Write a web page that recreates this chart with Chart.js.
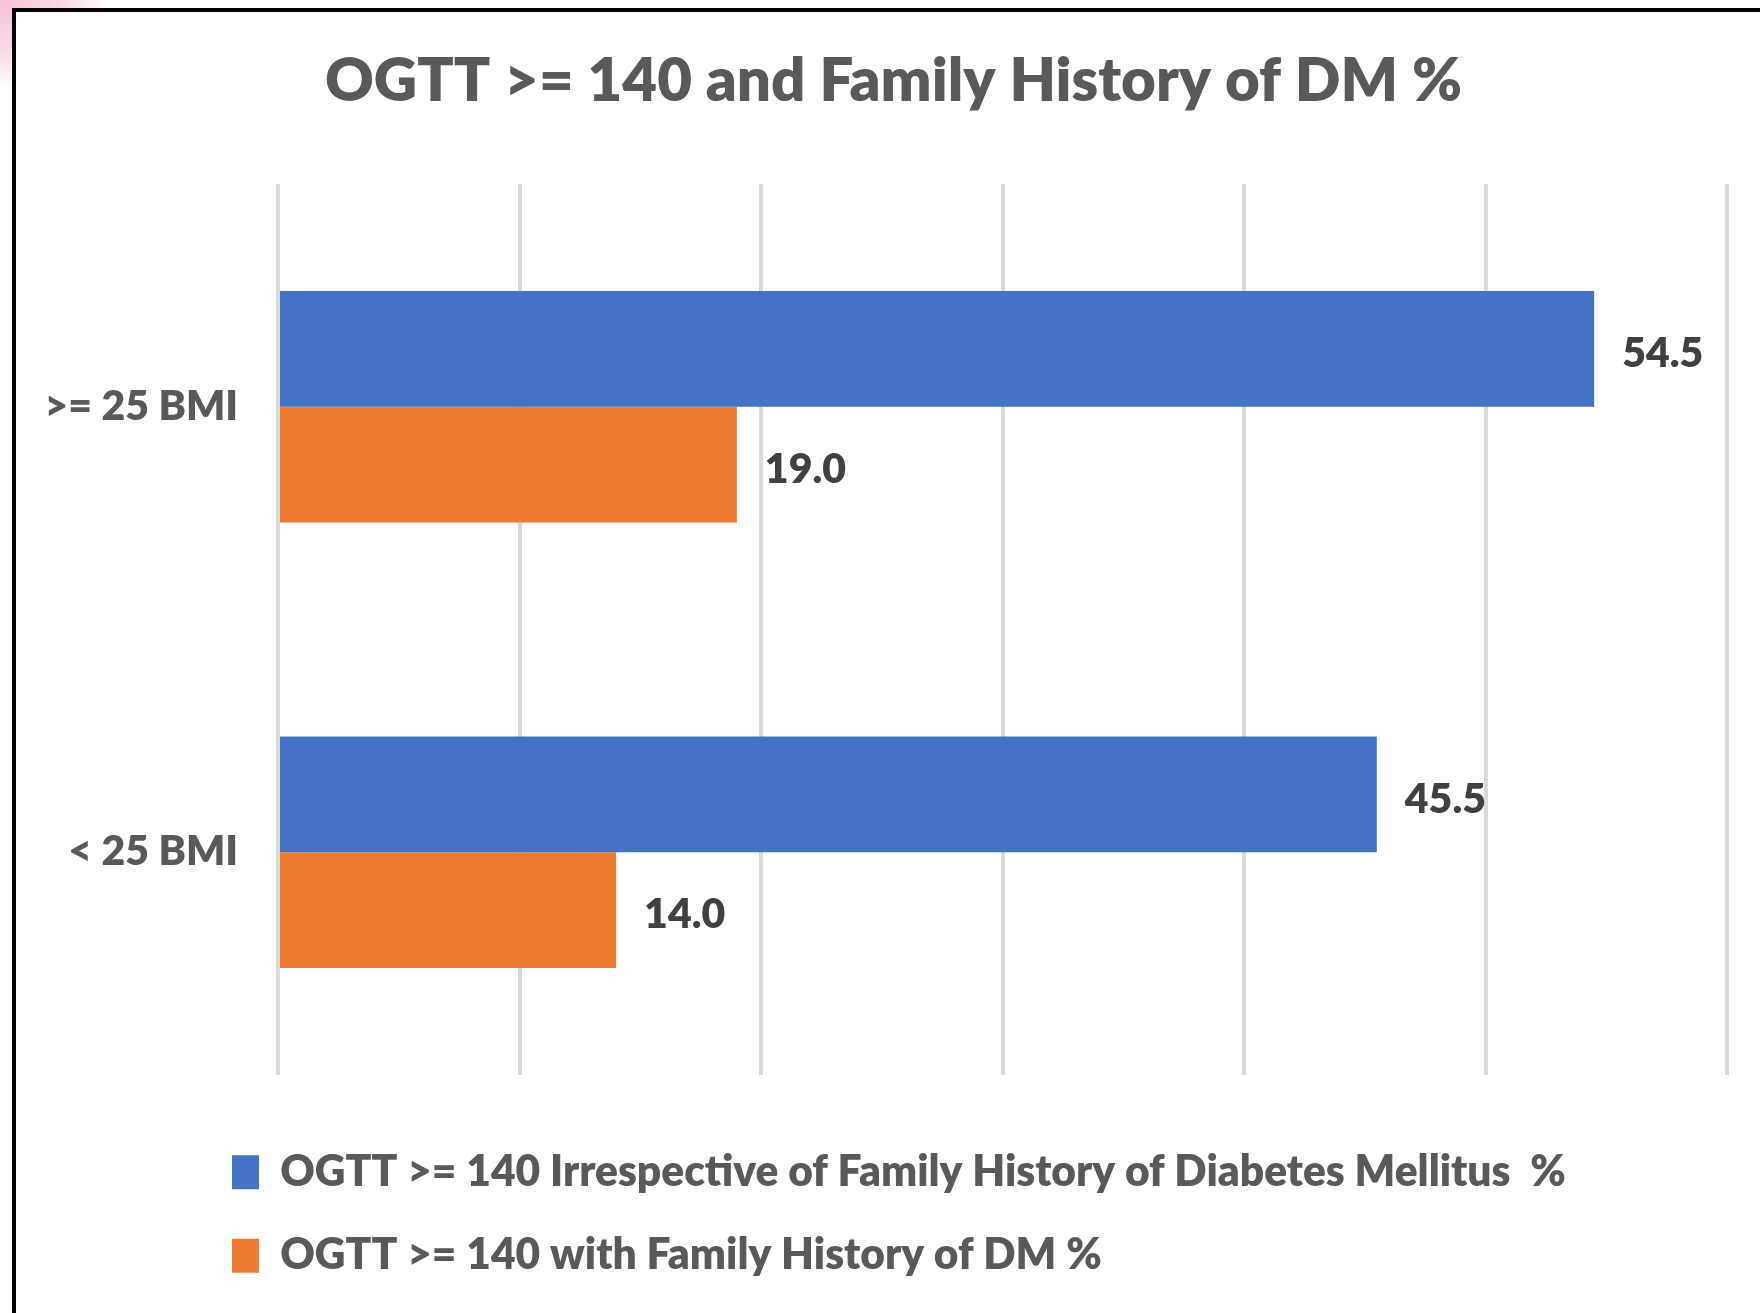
<!DOCTYPE html>
<html>
<head>
<meta charset="utf-8">
<title>OGTT >= 140 and Family History of DM %</title>
<script src="https://cdn.jsdelivr.net/npm/chart.js@4.4.1/dist/chart.umd.min.js"></script>
<style>
    html, body {
        margin: 0;
        padding: 0;
        width: 1760px;
        height: 1313px;
        overflow: hidden;
        background: #ffffff;
    }
    .glow {
        position: absolute;
        left: 0;
        top: 0;
        width: 160px;
        height: 120px;
        background: radial-gradient(ellipse 110px 90px at 0 0, #f4c2d8 0%, #f8d9e7 55%, rgba(255,255,255,0) 100%);
    }
    .frame {
        position: absolute;
        left: 12px;
        top: 8px;
        width: 1760px;
        height: 1320px;
        border-left: 4px solid #000;
        border-top: 4px solid #000;
        background: #ffffff;
    }
    .chart-box {
        position: absolute;
        left: 16px;
        top: 12px;
        width: 1744px;
        height: 1301px;
    }
</style>
</head>
<body>
<div class="glow"></div>
<div class="frame"></div>
<div class="chart-box">
    <canvas id="ogttChart"></canvas>
</div>

<script>
const categories = [">= 25 BMI", "< 25 BMI"];
const seriesNames = [
    "OGTT >= 140 Irrespective of Family History of Diabetes Mellitus  %",
    "OGTT >= 140 with Family History of DM %"
];
const irrespectiveValues = [54.5, 45.5];
const familyHistoryValues = [19.0, 14.0];
const axisMin = 0;
const axisMax = 60;
const axisStep = 10;

document.addEventListener("DOMContentLoaded", function () {

    const textGray = "#595959";
    const labelGray = "#404040";
    const fontStack = "Lato, 'Open Sans', sans-serif";

    Chart.defaults.font.family = fontStack;
    Chart.defaults.font.weight = 800;

    // value labels just right of each bar
    const barValues = {
        id: "barValues",
        afterDatasetsDraw(chart) {
            const ctx = chart.ctx;
            ctx.save();
            ctx.font = "800 41px " + fontStack;
            ctx.fillStyle = labelGray;
            ctx.textAlign = "left";
            ctx.textBaseline = "middle";
            chart.data.datasets.forEach((ds, i) => {
                chart.getDatasetMeta(i).data.forEach((bar, j) => {
                    ctx.fillText(ds.data[j].toFixed(1), bar.x + 28, bar.y + 5);
                });
            });
            ctx.restore();
        }
    };

    // legend rows start under the axis labels, title sits a bit right of canvas centre
    const blockShift = {
        id: "blockShift",
        afterLayout(chart) {
            const legend = chart.legend;
            legend.left = 216 - legend.options.labels.padding;
            chart.titleBlock.left += 44;
        }
    };

    const ctx = document.getElementById("ogttChart").getContext("2d");

    new Chart(ctx, {
        type: "bar",
        data: {
            labels: categories,
            datasets: [
                {
                    label: seriesNames[0],
                    data: irrespectiveValues,
                    backgroundColor: "#4472C4"
                },
                {
                    label: seriesNames[1],
                    data: familyHistoryValues,
                    backgroundColor: "#ED7D31"
                }
            ]
        },
        options: {
            indexAxis: "y",
            responsive: true,
            maintainAspectRatio: false,
            animation: false,
            categoryPercentage: 0.52,
            barPercentage: 1.0,
            layout: {
                padding: { left: 0, right: 33, top: 0, bottom: 26 }
            },
            scales: {
                x: {
                    min: axisMin,
                    max: axisMax,
                    ticks: { stepSize: axisStep, display: false },
                    grid: { color: "#d9d9d9", lineWidth: 4, drawTicks: false },
                    border: { display: false },
                    afterFit(scale) { scale.height = 35; }
                },
                y: {
                    grid: { display: false },
                    border: { display: false },
                    ticks: {
                        color: textGray,
                        padding: 32,
                        font: { size: 41, weight: 800 }
                    },
                    afterFit(scale) { scale.width = 262; }
                }
            },
            plugins: {
                title: {
                    display: true,
                    text: "OGTT >= 140 and Family History of DM %",
                    color: textGray,
                    font: { size: 60, weight: 800 },
                    padding: { top: 34, bottom: 66 }
                },
                legend: {
                    position: "bottom",
                    align: "start",
                    labels: {
                        color: textGray,
                        boxWidth: 27,
                        boxHeight: 34,
                        padding: 41,
                        font: { size: 42.5, weight: 800 }
                    }
                },
                tooltip: { enabled: false }
            }
        },
        plugins: [barValues, blockShift]
    });

});
</script>
</body>
</html>
